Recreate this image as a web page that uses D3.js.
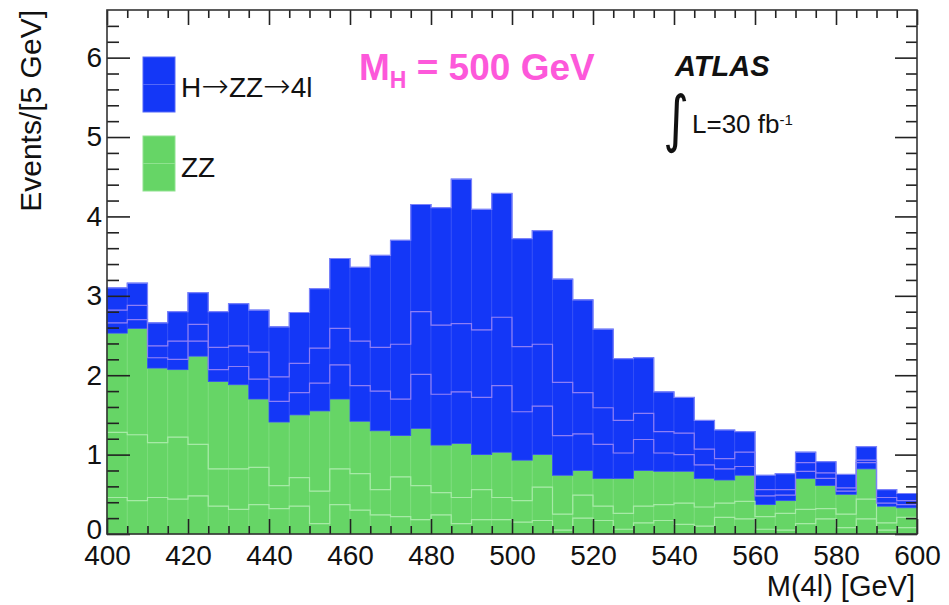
<!DOCTYPE html>
<html>
<head>
<meta charset="utf-8">
<script src="https://cdn.jsdelivr.net/npm/d3@7"></script>
<style>
    body { margin: 0; background: #fff; }
    svg { display: block; }
    text { font-family: "Liberation Sans", Arial, Helvetica, sans-serif; fill: #111; }
</style>
</head>
<body>
<svg id="canvasHist" width="949" height="605"></svg>
<script>
// bin lower edges, 5 GeV wide
let massBins = [400, 405, 410, 415, 420, 425, 430, 435, 440, 445,
                450, 455, 460, 465, 470, 475, 480, 485, 490, 495,
                500, 505, 510, 515, 520, 525, 530, 535, 540, 545,
                550, 555, 560, 565, 570, 575, 580, 585, 590, 595];

// ZZ background, three stacked pieces (bottom to top)
let zzA = [0.46, 0.42, 0.46, 0.44, 0.48, 0.35, 0.31, 0.37, 0.32, 0.35,
           0.13, 0.37, 0.30, 0.24, 0.22, 0.18, 0.24, 0.13, 0.18, 0.18,
           0.15, 0.17, 0.05, 0.20, 0.17, 0.06, 0.14, 0.17, 0.12, 0.10,
           0.21, 0.19, 0.06, 0.05, 0.13, 0.19, 0.08, 0.19, 0.05, 0.08];
let zzB = [0.82, 0.83, 0.69, 0.78, 0.65, 0.47, 0.51, 0.47, 0.29, 0.36,
           0.41, 0.45, 0.46, 0.32, 0.50, 0.43, 0.28, 0.33, 0.38, 0.28,
           0.27, 0.42, 0.20, 0.29, 0.18, 0.20, 0.21, 0.20, 0.27, 0.24,
           0.18, 0.22, 0.16, 0.21, 0.18, 0.13, 0.17, 0.25, 0.09, 0.13];
let zzC = [1.25, 1.34, 0.94, 0.85, 1.11, 1.10, 1.06, 0.86, 0.80, 0.79,
           1.01, 0.88, 0.66, 0.74, 0.52, 0.72, 0.60, 0.68, 0.44, 0.57,
           0.51, 0.41, 0.49, 0.31, 0.35, 0.44, 0.45, 0.42, 0.40, 0.36,
           0.29, 0.33, 0.15, 0.16, 0.39, 0.29, 0.25, 0.38, 0.21, 0.12];

// H -> ZZ -> 4l signal, three stacked pieces
let sigA = [0.13, 0.11, 0.13, 0.13, 0.19, 0.15, 0.23, 0.25, 0.26, 0.28,
            0.35, 0.43, 0.45, 0.50, 0.46, 0.68, 0.64, 0.65, 0.72, 0.84,
            0.61, 0.61, 0.50, 0.46, 0.43, 0.32, 0.39, 0.23, 0.21, 0.17,
            0.14, 0.11, 0.11, 0.07, 0.09, 0.09, 0.04, 0.08, 0.04, 0.04];
let sigB = [0.16, 0.18, 0.15, 0.23, 0.21, 0.28, 0.26, 0.34, 0.31, 0.37,
            0.44, 0.46, 0.56, 0.55, 0.69, 0.79, 0.87, 0.86, 0.85, 0.86,
            0.82, 0.78, 0.67, 0.52, 0.46, 0.41, 0.33, 0.27, 0.27, 0.20,
            0.13, 0.18, 0.08, 0.07, 0.11, 0.07, 0.04, 0.03, 0.07, 0.05];
let sigC = [0.28, 0.28, 0.29, 0.37, 0.40, 0.45, 0.53, 0.53, 0.63, 0.64,
            0.75, 0.88, 0.93, 1.16, 1.31, 1.35, 1.48, 1.82, 1.52, 1.56,
            1.36, 1.43, 1.30, 1.17, 0.99, 0.78, 0.70, 0.50, 0.45, 0.36,
            0.36, 0.26, 0.18, 0.20, 0.13, 0.14, 0.17, 0.17, 0.10, 0.09];

let xTicks = [400, 420, 440, 460, 480, 500, 520, 540, 560, 580, 600];
let yTicks = [0, 1, 2, 3, 4, 5, 6];
// legend text split so the arrows can use a font with long arrows
let legendLabels = [['H', '\u2192', 'ZZ', '\u2192', '4l'], ['ZZ']];

let binWidth = 5;
let plotLeft = 107, plotRight = 917, plotTop = 10, plotBottom = 534;

let greenFill = '#66d566', blueFill = '#1437f7';

let svg = d3.select('#canvasHist');

let xScale = d3.scaleLinear().domain([400, 600]).range([plotLeft, plotRight]);
let yScale = d3.scaleLinear().domain([0, 6.6]).range([plotBottom, plotTop]);

// table for the stack
let keys = ['zzA', 'zzB', 'zzC', 'sigA', 'sigB', 'sigC'];
let rows = massBins.map(function(m, i){
    return {lo: m, zzA: zzA[i], zzB: zzB[i], zzC: zzC[i],
            sigA: sigA[i], sigB: sigB[i], sigC: sigC[i]};
});
let series = d3.stack().keys(keys)(rows);

// filled bins
series.forEach(function(s, k){
    let isZZ = k < 3;
    svg.append('g')
        .selectAll('rect')
        .data(s)
        .enter()
        .append('rect')
        .attr('x', function(d){ return xScale(d.data.lo); })
        .attr('width', function(d){ return xScale(d.data.lo + binWidth) - xScale(d.data.lo); })
        .attr('y', function(d){ return yScale(d[1]); })
        .attr('height', function(d){ return yScale(d[0]) - yScale(d[1]); })
        .attr('fill', isZZ ? greenFill : blueFill)
        .attr('stroke', isZZ ? '#7ddc7d' : '#3550f6')
        .attr('stroke-width', 0.8);
});

// step outlines of the stacked pieces
let stepLine = d3.line()
    .x(function(d){ return xScale(d[0]); })
    .y(function(d){ return yScale(d[1]); })
    .curve(d3.curveStepAfter);

function outlinePoints(s){
    let pts = s.map(function(d){ return [d.data.lo, d[1]]; });
    pts.push([600, s[s.length - 1][1]]);
    return pts;
}

[0, 1].forEach(function(k){
    svg.append('path')
        .attr('d', stepLine(outlinePoints(series[k])))
        .attr('fill', 'none')
        .attr('stroke', '#a6eaa6')
        .attr('stroke-width', 1.2);
});
[3, 4, 5].forEach(function(k){
    svg.append('path')
        .attr('d', stepLine(outlinePoints(series[k])))
        .attr('fill', 'none')
        .attr('stroke', k == 5 ? '#7b82fa' : '#8d7ef6')
        .attr('stroke-width', 1.2);
});

// axes - ticks point into the frame
let tickColor = '#222';
function styleAxis(g){
    g.select('.domain').remove();
    g.selectAll('line').attr('stroke', tickColor).attr('stroke-width', 1.6);
    g.selectAll('text')
        .style('font-size', '28px')
        .style('font-family', '"Liberation Sans", Arial, sans-serif')
        .attr('fill', '#111');
}

let xMinor = massBins.concat([600]).filter(function(v){ return v % 20 != 0; });
let yMinor = d3.range(0, 33).map(function(i){ return i * 0.2; })
    .filter(function(v){ return Math.abs(v - Math.round(v)) > 0.01; });

svg.append('g')
    .attr('transform', 'translate(0,' + plotBottom + ')')
    .call(d3.axisBottom(xScale).tickValues(xTicks).tickSize(-15).tickPadding(11)
        .tickFormat(function(d){ return d; }))
    .call(styleAxis);
svg.append('g')
    .attr('transform', 'translate(0,' + plotBottom + ')')
    .call(d3.axisBottom(xScale).tickValues(xMinor).tickSize(-8).tickFormat(''))
    .call(styleAxis);
svg.append('g')
    .attr('transform', 'translate(0,' + plotTop + ')')
    .call(d3.axisBottom(xScale).tickValues(xTicks).tickSize(15).tickFormat(''))
    .call(styleAxis);
svg.append('g')
    .attr('transform', 'translate(0,' + plotTop + ')')
    .call(d3.axisBottom(xScale).tickValues(xMinor).tickSize(8).tickFormat(''))
    .call(styleAxis);

let yAxisG = svg.append('g')
    .attr('transform', 'translate(' + plotLeft + ',0)')
    .call(d3.axisLeft(yScale).tickValues(yTicks).tickSize(-23).tickPadding(5)
        .tickFormat(function(d){ return d; }))
    .call(styleAxis);
// the zero label sits a little high, as in the original
yAxisG.selectAll('text').filter(function(d){ return d == 0; }).attr('dy', '0.15em');
svg.append('g')
    .attr('transform', 'translate(' + plotLeft + ',0)')
    .call(d3.axisLeft(yScale).tickValues(yMinor).tickSize(-12).tickFormat(''))
    .call(styleAxis);
svg.append('g')
    .attr('transform', 'translate(' + plotRight + ',0)')
    .call(d3.axisLeft(yScale).tickValues(yTicks).tickSize(22).tickFormat(''))
    .call(styleAxis);
svg.append('g')
    .attr('transform', 'translate(' + plotRight + ',0)')
    .call(d3.axisLeft(yScale).tickValues(yMinor).tickSize(11).tickFormat(''))
    .call(styleAxis);

// frame
svg.append('rect')
    .attr('x', plotLeft).attr('y', plotTop)
    .attr('width', plotRight - plotLeft).attr('height', plotBottom - plotTop)
    .attr('fill', 'none')
    .attr('stroke', '#333')
    .attr('stroke-width', 1.6);

// axis titles
svg.append('text')
    .attr('transform', 'translate(41,' + plotTop + ') rotate(-90)')
    .attr('text-anchor', 'end')
    .attr('font-size', '30px')
    .text('Events/[5 GeV]');
svg.append('text')
    .attr('x', 915).attr('y', 596)
    .attr('text-anchor', 'end')
    .attr('font-size', '29px')
    .text('M(4l) [GeV]');

// legend
let legendFill = [blueFill, greenFill];
let legendLine = ['#5468f8', '#8fe28f'];
let legendTop = [57, 136];
let legendBase = [97, 177];
legendLabels.forEach(function(parts, i){
    svg.append('rect')
        .attr('x', 143).attr('y', legendTop[i])
        .attr('width', 32).attr('height', 55)
        .attr('fill', legendFill[i])
        .attr('stroke', legendLine[i])
        .attr('stroke-width', 1);
    svg.append('line')
        .attr('x1', 143).attr('x2', 175)
        .attr('y1', legendTop[i] + 27.5).attr('y2', legendTop[i] + 27.5)
        .attr('stroke', legendLine[i])
        .attr('stroke-width', 1);
    let t = svg.append('text')
        .attr('x', 181).attr('y', legendBase[i])
        .attr('font-size', '28px');
    parts.forEach(function(p){
        let ts = t.append('tspan').text(p);
        if(p == '\u2192'){
            ts.style('font-family', '"DejaVu Sans", sans-serif')
              .attr('font-size', '33px')
              .attr('font-weight', 200);
        }
    });
});

// mass label
let massLabel = svg.append('text')
    .attr('x', 359).attr('y', 80)
    .attr('font-size', '37px')
    .attr('font-weight', 'bold')
    .style('fill', '#fd58da');
massLabel.append('tspan').text('M');
massLabel.append('tspan').attr('font-size', '23px').attr('dy', 8).text('H');
massLabel.append('tspan').attr('dy', -8).text(' = 500 GeV');

// ATLAS tag
svg.append('text')
    .attr('x', 675).attr('y', 76)
    .attr('font-size', '29px')
    .attr('font-weight', 'bold')
    .attr('font-style', 'italic')
    .text('ATLAS');

// integral sign, squeezed a bit to get the thinner stroke
svg.append('text')
    .attr('transform', 'translate(663,140) scale(0.8,1)')
    .attr('font-size', '62px')
    .style('font-family', '"DejaVu Sans", sans-serif')
    .text('\u222B');

let lumi = svg.append('text')
    .attr('x', 692).attr('y', 133)
    .attr('font-size', '26px');
lumi.append('tspan').text('L=30 fb');
lumi.append('tspan').attr('font-size', '15px').attr('dy', -8).text('-1');
</script>
</body>
</html>
